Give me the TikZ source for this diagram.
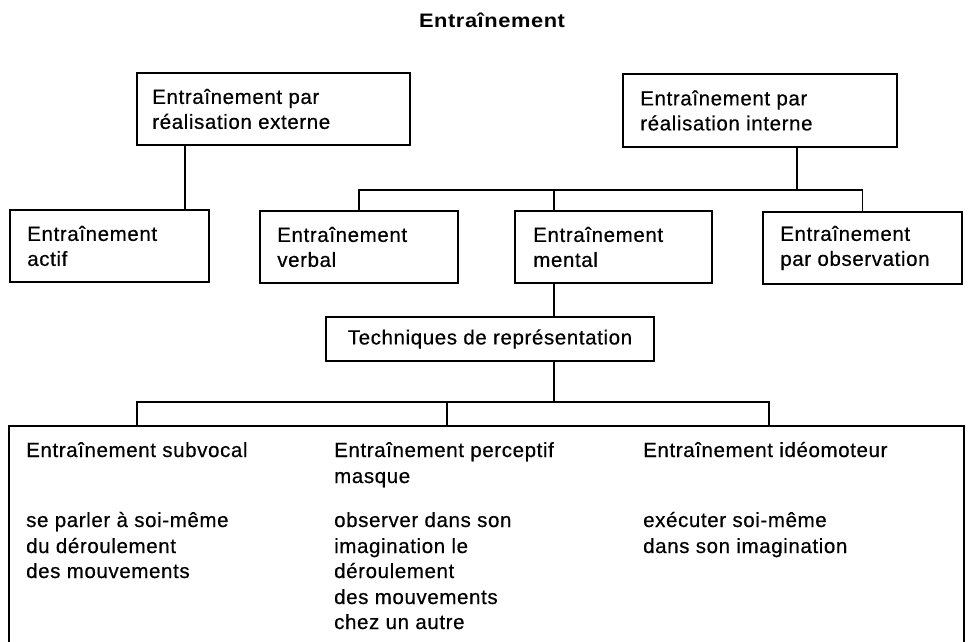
\documentclass[tikz,border=0pt]{standalone}
\usepackage{fontspec}
\setmainfont{Liberation Sans}[LetterSpace=3,FakeBold=0.5]
\newfontfamily\titlefont{Liberation Sans}[FakeStretch=1.12,LetterSpace=3]
\begin{document}
\begin{tikzpicture}[x=1pt,y=-1pt,
  box/.style={draw,line width=1.8pt,rectangle,inner sep=0pt},
  lbl/.style={inner sep=0pt,align=left,anchor=west,font=\fontsize{20.5}{25}\selectfont},
  txt/.style={inner sep=0pt,anchor=base west,font=\fontsize{20.5}{25}\selectfont},
  ln/.style={line width=1.8pt}]
\useasboundingbox (0,0) rectangle (968,641);
% title
\node[inner sep=0pt,anchor=base,font=\titlefont\bfseries\fontsize{19.5}{22}\selectfont] (title) at (492,27) {Entraînement};
% boxes
\node[box,minimum width=273,minimum height=72] (ext) at (273.5,109) {};
\node[box,minimum width=274,minimum height=73] (int) at (760,110.5) {};
\node[box,minimum width=199,minimum height=72] (act) at (109.5,246) {};
\node[box,minimum width=198,minimum height=72] (verb) at (359,247) {};
\node[box,minimum width=197,minimum height=72] (ment) at (613.5,247) {};
\node[box,minimum width=199,minimum height=72] (obs) at (862.5,248) {};
\node[box,minimum width=328,minimum height=44] (tech) at (490,339) {};
\node[box,minimum width=955,minimum height=224] (big) at (486.5,538) {};
% box labels
\node[lbl] (extT) at ([xshift=16pt]ext.west) {Entraînement par\\réalisation externe};
\node[lbl] (intT) at ([xshift=18pt]int.west) {Entraînement par\\réalisation interne};
\node[lbl] (actT) at ([xshift=18pt]act.west) {Entraînement\\actif};
\node[lbl] (verbT) at ([xshift=18pt]verb.west) {Entraînement\\verbal};
\node[lbl] (mentT) at ([xshift=19pt]ment.west) {Entraînement\\mental};
\node[lbl] (obsT) at ([xshift=18pt]obs.west) {Entraînement\\par observation};
\node[inner sep=0pt,font=\fontsize{20.5}{25}\selectfont] (techT) at (tech.center) {Techniques de représentation};
% big box texts
\node[txt] (a1) at (26,457) {Entraînement subvocal};
\node[txt] (a2) at (26,527) {se parler à soi-même};
\node[txt] (a3) at (26,553) {du déroulement};
\node[txt] (a4) at (26,578) {des mouvements};
\node[txt] (b1) at (334,457) {Entraînement perceptif};
\node[txt] (b2) at (334,483) {masque};
\node[txt] (b3) at (334,527) {observer dans son};
\node[txt] (b4) at (334,553) {imagination le};
\node[txt] (b5) at (334,578) {déroulement};
\node[txt] (b6) at (334,604) {des mouvements};
\node[txt] (b7) at (334,629) {chez un autre};
\node[txt] (c1t) at (643,457) {Entraînement idéomoteur};
\node[txt] (c2t) at (643,527) {exécuter soi-même};
\node[txt] (c3t) at (643,553) {dans son imagination};
% connectors
\coordinate (jA) at (185,0);
\draw[ln] (ext.south -| jA) -- (act.north -| jA);
\coordinate (busR) at (797,190);
\draw[ln] (int.south -| busR) -- (busR);
\draw[ln] (verb.north) -- (verb.north |- busR) -- (obs.north |- busR) -- (obs.north);
\coordinate (jM) at (554,0);
\draw[ln] (ment.north -| jM) -- (busR -| jM);
\draw[ln] (ment.south -| jM) -- (tech.north -| jM);
\coordinate (c1) at (137,402);
\coordinate (c2) at (447,402);
\coordinate (c3) at (769,402);
\draw[ln] (tech.south -| jM) -- (c1 -| jM);
\draw[ln] (big.north -| c1) -- (c1) -- (c3) -- (big.north -| c3);
\draw[ln] (big.north -| c2) -- (c2);
\end{tikzpicture}
\end{document}
